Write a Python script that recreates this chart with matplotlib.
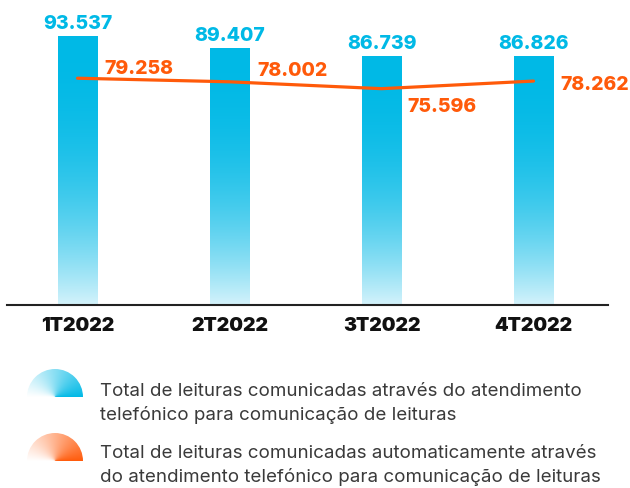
import numpy as np
import matplotlib
matplotlib.use('Agg')
import matplotlib.pyplot as plt
from matplotlib.patches import Wedge
from matplotlib.colors import to_rgb

categories = ['1T2022', '2T2022', '3T2022', '4T2022']
total_calls = [93.537, 89.407, 86.739, 86.826]
auto_calls = [79.258, 78.002, 75.596, 78.262]
legend_labels = [
    'Total de leituras comunicadas através do atendimento\ntelefónico para comunicação de leituras',
    'Total de leituras comunicadas automaticamente através\ndo atendimento telefónico para comunicação de leituras',
]

CYAN = '#00B9E6'
ORANGE = '#FF5A0A'
LIGHT_CYAN = '#D2F2FB'
TEXT = '#3a3a3a'

plt.rcParams['font.family'] = ['Inter', 'DejaVu Sans']

W, H = 630, 488
fig = plt.figure(figsize=(W / 100, H / 100), dpi=100)
ax = fig.add_axes([7 / W, (H - 304.5) / H, (608 - 7) / W, 285.5 / H])

x = np.arange(len(categories))
bw = 0.257

# gradient bars
full = np.array(to_rgb(CYAN))
light = np.array(to_rgb(LIGHT_CYAN))
f = np.linspace(0, 1, 256)[:, None]
mix = (1 - f) ** 2.3
grad = full[None, None, :] * (1 - mix[:, :, None]) + light[None, None, :] * mix[:, :, None]
grad = np.repeat(grad, 2, axis=1)
for xi, v in zip(x, total_calls):
    ax.imshow(grad, extent=[xi - bw / 2, xi + bw / 2, 0, v], origin='lower',
              aspect='auto', zorder=2, interpolation='bilinear')

ax.plot(x, auto_calls, color=ORANGE, lw=2.3, zorder=3, solid_capstyle='round')

for xi, v in zip(x, total_calls):
    ax.annotate(f'{v:.3f}', (xi, v), xytext=(0, 8), textcoords='offset pixels',
                ha='center', va='baseline', fontsize=14, fontweight=800, color=CYAN)

auto_offsets = [(27, 4), (27.5, 6), (25.5, -23), (26.5, -8.5)]
for xi, v, off in zip(x, auto_calls, auto_offsets):
    ax.annotate(f'{v:.3f}', (xi, v), xytext=off, textcoords='offset pixels',
                ha='left', va='baseline', fontsize=14, fontweight=800, color=ORANGE)

ax.set_xlim(-0.464, 3.49)
ax.set_ylim(0, 100)
ax.axhline(0, color='#222222', lw=1.5, zorder=4, clip_on=False)
for s in ax.spines.values():
    s.set_visible(False)
ax.set_yticks([])
ax.set_xticks(x, categories)
ax.tick_params(axis='x', length=0, pad=9, labelsize=14)
for lab in ax.get_xticklabels():
    lab.set_fontweight(900)
    lab.set_color('#111111')

# legend
icon_colors = [CYAN, ORANGE]
icon_bottoms = [397, 461]
line_baselines = [(396, 420), (458, 482)]
gx, gy = np.meshgrid(np.linspace(-1, 1, 200), np.linspace(0, 1, 100))
t = np.arctan2(gy, gx) / np.pi
for col, yb, lbl, bls in zip(icon_colors, icon_bottoms, legend_labels, line_baselines):
    iax = fig.add_axes([27 / W, (H - yb) / H, 56 / W, 28 / H])
    c = np.array(to_rgb(col))
    tt = np.clip(t, 0, 1)[:, :, None] ** 0.9
    img = c[None, None, :] * (1 - tt) + np.ones(3)[None, None, :] * tt
    im = iax.imshow(img, extent=[-1, 1, 0, 1], origin='lower', aspect='auto')
    wedge = Wedge((0, 0), 1, 0, 180, transform=iax.transData)
    im.set_clip_path(wedge)
    iax.set_xlim(-1, 1)
    iax.set_ylim(0, 1)
    iax.axis('off')
    for line, bl in zip(lbl.split('\n'), bls):
        fig.text(100 / W, 1 - bl / H, line, fontsize=13.5, color=TEXT, va='baseline', ha='left')

fig.savefig('out.png', dpi=100)
